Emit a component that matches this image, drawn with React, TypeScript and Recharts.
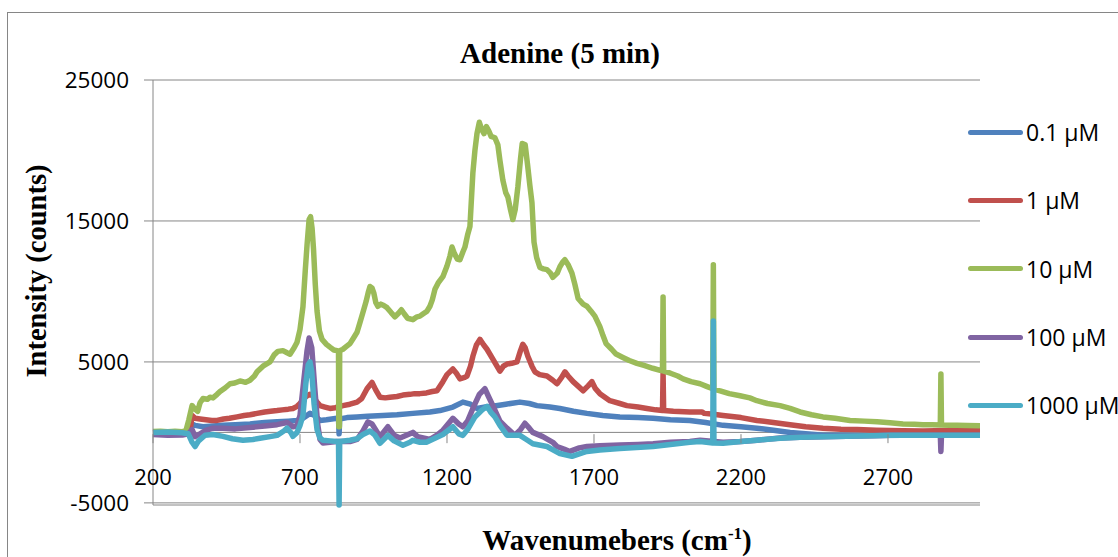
import React from 'react';
import { LineChart, Line, XAxis, YAxis, CartesianGrid, ReferenceLine, Legend } from 'recharts';

// Raman intensity (counts) vs wavenumber (cm-1), one spectrum per concentration
const conc01: [number, number][] = [
  [200, 0], [250, 20], [300, -20], [320, 30], [333, 600], [343, 500], [370, 400], [404, 450],
  [438, 500], [480, 550], [530, 600], [580, 700], [622, 750], [660, 800], [690, 850], [710, 1000],
  [734, 1350], [750, 1200], [768, 850], [790, 900], [826, 1000], [831, 950], [833, -100], [835, 950],
  [860, 1050], [894, 1100], [930, 1150], [982, 1200], [1030, 1250], [1084, 1350], [1142, 1450],
  [1176, 1550], [1220, 1800], [1254, 2150], [1280, 2000], [1302, 1700], [1330, 1800], [1356, 1850],
  [1400, 2000], [1448, 2150], [1480, 2050], [1506, 1900], [1550, 1800], [1584, 1700], [1630, 1500],
  [1676, 1350], [1730, 1200], [1788, 1100], [1850, 1050], [1901, 1000], [1960, 900], [2026, 850],
  [2080, 700], [2139, 500], [2200, 400], [2254, 300], [2310, 150], [2367, 0], [2420, -100],
  [2479, -200], [2550, -200], [2650, -220], [2750, -200], [2850, -200], [2950, -210], [3013, -200],
];

const conc1: [number, number][] = [
  [200, 0], [240, 30], [280, -20], [309, 20], [326, 100], [333, 1200], [343, 1000], [360, 950],
  [380, 900], [400, 850], [418, 850], [440, 950], [460, 1000], [486, 1100], [510, 1200], [530, 1250],
  [554, 1350], [580, 1450], [600, 1500], [622, 1550], [640, 1600], [660, 1650], [676, 1700],
  [690, 1850], [700, 2050], [712, 2400], [724, 2600], [734, 2700], [744, 2600], [756, 2200],
  [768, 1900], [785, 1800], [802, 1700], [820, 1750], [846, 1900], [870, 2000], [894, 2150],
  [910, 2400], [928, 3100], [945, 3550], [958, 3000], [972, 2500], [990, 2450], [1006, 2500],
  [1030, 2550], [1050, 2650], [1074, 2700], [1090, 2750], [1108, 2750], [1130, 2800], [1150, 2900],
  [1166, 2950], [1186, 3600], [1200, 4100], [1220, 4500], [1232, 4200], [1244, 3800], [1260, 3900],
  [1268, 4000], [1280, 4700], [1288, 5400], [1300, 6200], [1312, 6600], [1325, 6200], [1336, 5900],
  [1356, 5200], [1373, 4600], [1380, 4350], [1392, 4700], [1404, 4850], [1420, 4900], [1438, 5000],
  [1450, 5800], [1458, 6250], [1466, 6000], [1475, 5400], [1489, 4700], [1499, 4300], [1515, 4100],
  [1540, 4000], [1560, 3700], [1574, 3450], [1590, 3900], [1601, 4300], [1612, 4000], [1629, 3600],
  [1645, 3300], [1663, 2950], [1680, 3300], [1693, 3600], [1705, 3100], [1720, 2750], [1754, 2250],
  [1788, 2050], [1812, 1900], [1850, 1800], [1880, 1700], [1910, 1600], [1933, 1550], [1935, 4200],
  [1937, 1550], [1970, 1500], [2026, 1450], [2067, 1450], [2075, 1350], [2100, 1300], [2139, 1200],
  [2200, 1050], [2254, 850], [2310, 700], [2367, 550], [2420, 400], [2479, 300], [2540, 230],
  [2595, 200], [2660, 150], [2750, 120], [2819, 100], [2900, 130], [2960, 150], [3013, 150],
];

const conc10: [number, number][] = [
  [200, 60], [225, 90], [250, 40], [275, 80], [300, 50], [312, 120], [322, 900], [333, 1900],
  [343, 1650], [352, 1500], [360, 2100], [370, 2400], [385, 2350], [394, 2500], [404, 2450],
  [418, 2700], [428, 2900], [445, 3150], [462, 3450], [478, 3500], [496, 3650], [515, 3550],
  [530, 3700], [545, 4000], [554, 4300], [574, 4700], [598, 5000], [612, 5500], [625, 5750],
  [642, 5800], [656, 5650], [666, 5550], [680, 6000], [690, 6400], [700, 7300], [710, 8900],
  [718, 11500], [724, 13300], [731, 15100], [736, 15300], [741, 14500], [746, 13000], [752, 10500],
  [758, 8600], [766, 7200], [775, 6600], [790, 6250], [802, 6050], [815, 5850], [826, 5800],
  [831, 5750], [832, 400], [834, 400], [835, 5800], [846, 5900], [858, 6100], [870, 6300],
  [882, 6700], [894, 7100], [904, 7800], [914, 8500], [925, 9300], [933, 10000], [938, 10350],
  [945, 10250], [951, 9900], [958, 9200], [965, 8950], [975, 9100], [985, 9000], [996, 8850],
  [1010, 8500], [1023, 8200], [1035, 8450], [1045, 8700], [1055, 8400], [1066, 8100], [1084, 8000],
  [1098, 8200], [1108, 8250], [1118, 8400], [1132, 8600], [1142, 8950], [1150, 9400], [1159, 10150],
  [1170, 10600], [1186, 11050], [1200, 11800], [1210, 12500], [1217, 13150], [1225, 12700],
  [1235, 12300], [1244, 12250], [1254, 12800], [1261, 13150], [1270, 14000], [1278, 14600],
  [1283, 16500], [1288, 18400], [1295, 20000], [1302, 21200], [1310, 22000], [1318, 21500],
  [1326, 21200], [1334, 21700], [1342, 21400], [1350, 21000], [1363, 20900], [1373, 20400],
  [1380, 19300], [1390, 17900], [1400, 17000], [1407, 16700], [1415, 15900], [1424, 15100],
  [1432, 15800], [1441, 17400], [1450, 19400], [1456, 20500], [1466, 20400], [1474, 19000],
  [1482, 17500], [1489, 16300], [1496, 13500], [1505, 12400], [1516, 11700], [1528, 11600],
  [1540, 11550], [1552, 11300], [1560, 11000], [1575, 11300], [1584, 11750], [1594, 12100],
  [1601, 12250], [1612, 11900], [1625, 11300], [1635, 10500], [1646, 9500], [1663, 9100],
  [1676, 8950], [1690, 8600], [1703, 8250], [1720, 7500], [1731, 6850], [1741, 6300], [1760, 5900],
  [1775, 5560], [1800, 5300], [1820, 5100], [1846, 4900], [1870, 4750], [1900, 4550], [1925, 4400],
  [1933, 4380], [1935, 9600], [1937, 4350], [1960, 4200], [1985, 4000], [2003, 3800], [2030, 3600],
  [2061, 3450], [2085, 3250], [2104, 3100], [2106, 11900], [2108, 3050], [2129, 2950], [2160, 2750],
  [2197, 2600], [2230, 2450], [2254, 2250], [2290, 2050], [2333, 1900], [2367, 1700], [2401, 1450],
  [2440, 1250], [2479, 1100], [2520, 1000], [2571, 850], [2620, 800], [2663, 750], [2707, 680],
  [2751, 600], [2790, 580], [2819, 550], [2850, 540], [2878, 520], [2880, 4150], [2882, 520],
  [2910, 500], [2935, 500], [2970, 490], [3013, 480],
];

const conc100: [number, number][] = [
  [200, -150], [250, -200], [300, -180], [320, -100], [333, 200], [343, -300], [360, -100],
  [380, 150], [404, 300], [438, 300], [480, 250], [530, 350], [580, 450], [622, 550], [656, 700],
  [676, 400], [690, 450], [700, 1200], [712, 3500], [724, 5800], [731, 6700], [740, 6000],
  [750, 3200], [760, 600], [768, -500], [778, -750], [802, -700], [826, -650], [870, -650],
  [894, -500], [914, 100], [931, 750], [945, 600], [972, -300], [999, 400], [1020, -200],
  [1040, -400], [1084, 0], [1100, -300], [1142, -500], [1166, -200], [1186, 150], [1220, 1000],
  [1240, 600], [1254, 400], [1270, 800], [1288, 1700], [1310, 2700], [1329, 3100], [1340, 2600],
  [1356, 1900], [1380, 800], [1404, 300], [1431, -200], [1450, 200], [1465, 650], [1480, 300],
  [1492, 0], [1526, -300], [1560, -700], [1574, -1000], [1600, -1200], [1618, -1350], [1650, -1100],
  [1676, -1000], [1720, -950], [1788, -900], [1850, -850], [1901, -800], [1960, -700], [2026, -650],
  [2061, -550], [2139, -700], [2200, -650], [2254, -550], [2333, -400], [2401, -350], [2479, -300],
  [2600, -250], [2707, -200], [2820, -200], [2878, -200], [2880, -1350], [2882, -200], [2950, -200],
  [3013, -200],
];

const conc1000: [number, number][] = [
  [200, 0], [250, 30], [300, -20], [320, -100], [333, -700], [343, -1000], [355, -600], [377, -200],
  [404, -150], [438, -280], [470, -450], [506, -560], [540, -500], [564, -420], [598, -300],
  [622, -210], [645, 100], [656, 300], [670, -50], [676, -280], [690, 0], [700, 500], [710, 1200],
  [720, 3500], [728, 4800], [734, 5000], [740, 4300], [748, 2000], [758, 200], [768, -400],
  [778, -550], [802, -600], [826, -650], [831, -650], [833, -5150], [835, -650], [870, -560],
  [894, -450], [914, -150], [938, 100], [955, -200], [972, -770], [990, -400], [999, -210],
  [1020, -600], [1050, -910], [1074, -700], [1084, -560], [1108, -700], [1130, -700], [1166, -350],
  [1186, -150], [1220, 400], [1240, -100], [1254, -210], [1270, 200], [1295, 1100], [1320, 1600],
  [1336, 1850], [1350, 1400], [1363, 1100], [1380, 500], [1404, -200], [1448, -210], [1470, -500],
  [1492, -800], [1540, -1000], [1584, -1500], [1625, -1700], [1660, -1450], [1676, -1350],
  [1720, -1250], [1788, -1150], [1901, -1000], [2026, -700], [2061, -650], [2104, -750],
  [2106, 7900], [2108, -750], [2139, -770], [2200, -650], [2254, -550], [2333, -420], [2401, -350],
  [2479, -300], [2600, -250], [2707, -210], [2820, -210], [2950, -210], [3013, -200],
];

const seriesNames = ['0.1 µM', '1 µM', '10 µM', '100 µM', '1000 µM'];
const seriesColors = ['#4F81BD', '#C0504D', '#9BBB59', '#8064A2', '#4BACC6'];
const seriesData = [conc01, conc1, conc10, conc100, conc1000];

const xTicks = [200, 700, 1200, 1700, 2200, 2700];
const yTicks = [-5000, 5000, 15000, 25000];

const X_MIN = 200;
const X_MAX = 3013;
const Y_MIN = -5000;
const Y_MAX = 25000;

const W = 1118;
const H = 557;
const MARGIN = { top: 80, right: 138, bottom: 22, left: 0 };
const X_AXIS_H = 30;
const PLOT_H = H - MARGIN.top - MARGIN.bottom - X_AXIS_H;
// distance from the bottom of the plot up to the y = 0 line, where Excel puts the category axis
const ZERO_OFFSET = (PLOT_H * (0 - Y_MIN)) / (Y_MAX - Y_MIN);

const AXIS_GRAY = '#868686';
const TICK_FONT = '"Open Sans", sans-serif';
const TITLE_FONT = '"Liberation Serif", "Times New Roman", serif';

const toPoints = (s: [number, number][]) => s.map(([x, y]) => ({ x, y }));

function ZeroAxisTick(props: any) {
  const { x, y, payload } = props;
  const zy = y - ZERO_OFFSET;
  return (
    <g>
      <line x1={x} x2={x} y1={zy} y2={zy + 9} stroke={AXIS_GRAY} strokeWidth={1} />
      <text x={x} y={zy + 51} textAnchor="middle" fontFamily={TICK_FONT} fontSize={22} fill="#000">
        {payload.value}
      </text>
    </g>
  );
}

function SideLegend(props: any) {
  const items = props.payload || [];
  return (
    <div style={{ display: 'flex', flexDirection: 'column' }}>
      {items.map((it: any) => (
        <div key={it.value} style={{ height: 68.3, display: 'flex', alignItems: 'center', whiteSpace: 'nowrap' }}>
          <span style={{ width: 55, height: 5, borderRadius: 3, background: it.color, display: 'inline-block' }} />
          <span style={{ marginLeft: 3, fontFamily: TICK_FONT, fontSize: 23, color: '#000' }}>{it.value}</span>
        </div>
      ))}
    </div>
  );
}

export default function App() {
  return (
    <div style={{ position: 'relative', width: W, height: H, overflow: 'hidden', background: '#fff' }}>
      <style>{'body{margin:0}'}</style>
      <div style={{ position: 'absolute', left: 7, top: 12, width: 1300, height: 700, border: `1px solid ${AXIS_GRAY}` }} />
      <LineChart width={W} height={H} margin={MARGIN}>
        <CartesianGrid horizontal vertical={false} stroke={AXIS_GRAY} strokeWidth={1} />
        <XAxis
          type="number"
          dataKey="x"
          domain={[X_MIN, X_MAX]}
          ticks={xTicks}
          height={X_AXIS_H}
          axisLine={false}
          tickLine={false}
          tickSize={0}
          tickMargin={0}
          interval={0}
          tick={(p: any) => <ZeroAxisTick {...p} />}
        />
        <YAxis
          type="number"
          domain={[Y_MIN, Y_MAX]}
          ticks={yTicks}
          width={153}
          axisLine={{ stroke: AXIS_GRAY }}
          tickLine={{ stroke: AXIS_GRAY }}
          tickSize={9}
          tickMargin={15}
          interval={0}
          tick={{ fontFamily: TICK_FONT, fontSize: 22.5, fill: '#000' }}
        />
        <ReferenceLine y={0} stroke={AXIS_GRAY} strokeWidth={1} />
        <Legend
          layout="vertical"
          align="center"
          verticalAlign="middle"
          content={(p: any) => <SideLegend {...p} />}
          wrapperStyle={{ left: 968, top: 98, width: 220 }}
        />
        {seriesData.map((s, i) => (
          <Line
            key={seriesNames[i]}
            data={toPoints(s)}
            dataKey="y"
            name={seriesNames[i]}
            type="linear"
            stroke={seriesColors[i]}
            strokeWidth={5.5}
            strokeLinejoin="round"
            dot={false}
            activeDot={false}
            isAnimationActive={false}
          />
        ))}
      </LineChart>
      <svg width={W} height={H} style={{ position: 'absolute', left: 0, top: 0, pointerEvents: 'none' }}>
        <text x={560} y={63} textAnchor="middle" fontFamily={TITLE_FONT} fontWeight="bold" fontSize={29}>
          Adenine (5 min)
        </text>
        <text transform="translate(46,271) rotate(-90)" textAnchor="middle" fontFamily={TITLE_FONT} fontWeight="bold" fontSize={28.5}>
          Intensity (counts)
        </text>
        <text x={617} y={550} textAnchor="middle" fontFamily={TITLE_FONT} fontWeight="bold" fontSize={29}>
          Wavenumebers (cm<tspan dy={-11} fontSize={17}>-1</tspan><tspan dy={11}>)</tspan>
        </text>
      </svg>
    </div>
  );
}
